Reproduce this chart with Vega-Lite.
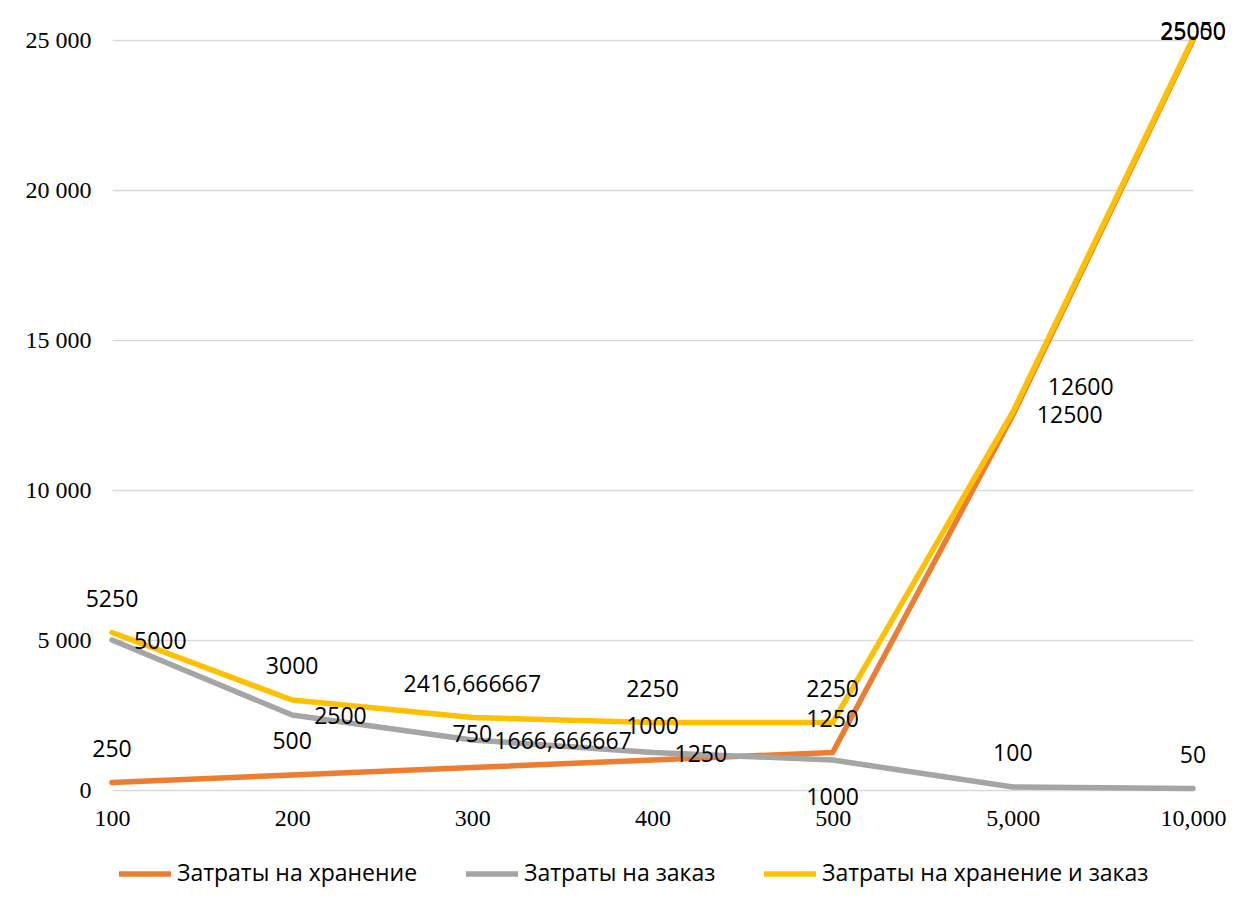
{
  "$schema": "https://vega.github.io/schema/vega-lite/v6.json",
  "autosize": "none",
  "width": 1081,
  "height": 750,
  "padding": {"left": 112, "top": 40, "right": 65, "bottom": 117},
  "background": "white",
  "config": {
    "view": {"stroke": null},
    "locale": {
      "number": {"decimal": ",", "thousands": " ", "grouping": [3], "currency": ["", ""]}
    }
  },
  "data": {
    "values": [
      {"x": "100", "series": "Затраты на хранение", "value": 250},
      {"x": "200", "series": "Затраты на хранение", "value": 500},
      {"x": "300", "series": "Затраты на хранение", "value": 750},
      {"x": "400", "series": "Затраты на хранение", "value": 1000},
      {"x": "500", "series": "Затраты на хранение", "value": 1250},
      {"x": "5,000", "series": "Затраты на хранение", "value": 12500},
      {"x": "10,000", "series": "Затраты на хранение", "value": 25000},
      {"x": "100", "series": "Затраты на заказ", "value": 5000},
      {"x": "200", "series": "Затраты на заказ", "value": 2500},
      {"x": "300", "series": "Затраты на заказ", "value": 1666.666667},
      {"x": "400", "series": "Затраты на заказ", "value": 1250},
      {"x": "500", "series": "Затраты на заказ", "value": 1000},
      {"x": "5,000", "series": "Затраты на заказ", "value": 100},
      {"x": "10,000", "series": "Затраты на заказ", "value": 50},
      {"x": "100", "series": "Затраты на хранение и заказ", "value": 5250},
      {"x": "200", "series": "Затраты на хранение и заказ", "value": 3000},
      {"x": "300", "series": "Затраты на хранение и заказ", "value": 2416.666667},
      {"x": "400", "series": "Затраты на хранение и заказ", "value": 2250},
      {"x": "500", "series": "Затраты на хранение и заказ", "value": 2250},
      {"x": "5,000", "series": "Затраты на хранение и заказ", "value": 12600},
      {"x": "10,000", "series": "Затраты на хранение и заказ", "value": 25050}
    ]
  },
  "encoding": {
    "x": {
      "field": "x", "type": "ordinal",
      "sort": ["100", "200", "300", "400", "500", "5,000", "10,000"],
      "scale": {"type": "point", "padding": 0},
      "axis": {
        "title": null, "domain": false, "ticks": false, "grid": false,
        "labelAngle": 0, "labelFont": "Liberation Serif", "labelFontSize": 24,
        "labelColor": "#000000", "labelPadding": 16
      }
    },
    "y": {
      "field": "value", "type": "quantitative",
      "scale": {"domain": [0, 25000], "nice": false},
      "axis": {
        "title": null, "domain": false, "ticks": false,
        "values": [0, 5000, 10000, 15000, 20000, 25000],
        "format": ",d",
        "grid": true, "gridColor": "#D9D9D9", "gridWidth": 1.5,
        "labelFont": "Liberation Serif", "labelFontSize": 24,
        "labelColor": "#000000", "labelPadding": 21
      }
    }
  },
  "layer": [
    {
      "mark": {"type": "line", "strokeWidth": 5.5, "strokeCap": "round", "strokeJoin": "round"},
      "encoding": {
        "color": {
          "field": "series", "type": "nominal",
          "scale": {
            "domain": ["Затраты на хранение", "Затраты на заказ", "Затраты на хранение и заказ"],
            "range": ["#ED7D31", "#A5A5A5", "#FFC000"]
          },
          "legend": {
            "title": null, "orient": "none", "direction": "horizontal",
            "legendX": 4, "legendY": 805,
            "symbolType": "stroke", "symbolSize": 2700, "symbolStrokeWidth": 5.5,
            "labelFont": "Open Sans", "labelFontSize": 23, "labelColor": "#000000",
            "labelOffset": 3, "columnPadding": 37, "labelLimit": 500
          }
        }
      }
    },
    {
      "transform": [{"filter": "(datum.series != 'Затраты на заказ' && indexof(['100','200','300','400','500'], datum.x) >= 0) || (datum.series == 'Затраты на заказ' && (datum.x == '5,000' || datum.x == '10,000'))"}],
      "mark": {"type": "text", "font": "Open Sans", "fontSize": 23, "color": "#000000", "align": "center", "baseline": "middle", "dy": -33},
      "encoding": {"text": {"field": "value", "type": "quantitative", "format": ".10~g"}}
    },
    {
      "transform": [{"filter": "datum.series == 'Затраты на заказ' && indexof(['100','200','300','400'], datum.x) >= 0"}],
      "mark": {"type": "text", "font": "Open Sans", "fontSize": 23, "color": "#000000", "align": "left", "baseline": "middle", "dx": 22, "dy": 2},
      "encoding": {"text": {"field": "value", "type": "quantitative", "format": ".10~g"}}
    },
    {
      "transform": [{"filter": "datum.series == 'Затраты на заказ' && datum.x == '500'"}],
      "mark": {"type": "text", "font": "Open Sans", "fontSize": 23, "color": "#000000", "align": "center", "baseline": "middle", "dy": 38},
      "encoding": {"text": {"field": "value", "type": "quantitative", "format": ".10~g"}}
    },
    {
      "transform": [{"filter": "datum.series != 'Затраты на заказ' && datum.x == '10,000'"}],
      "mark": {"type": "text", "font": "Open Sans", "fontSize": 23, "color": "#000000", "align": "center", "baseline": "middle", "dy": -7},
      "encoding": {"text": {"field": "value", "type": "quantitative", "format": ".10~g"}}
    },
    {
      "transform": [{"filter": "datum.series == 'Затраты на хранение' && datum.x == '5,000'"}],
      "mark": {"type": "text", "font": "Open Sans", "fontSize": 23, "color": "#000000", "align": "left", "baseline": "middle", "dx": 24, "dy": 1},
      "encoding": {"text": {"field": "value", "type": "quantitative", "format": ".10~g"}}
    },
    {
      "transform": [{"filter": "datum.series == 'Затраты на хранение и заказ' && datum.x == '5,000'"}],
      "mark": {"type": "text", "font": "Open Sans", "fontSize": 23, "color": "#000000", "align": "left", "baseline": "middle", "dx": 35, "dy": -24},
      "encoding": {"text": {"field": "value", "type": "quantitative", "format": ".10~g"}}
    }
  ]
}
